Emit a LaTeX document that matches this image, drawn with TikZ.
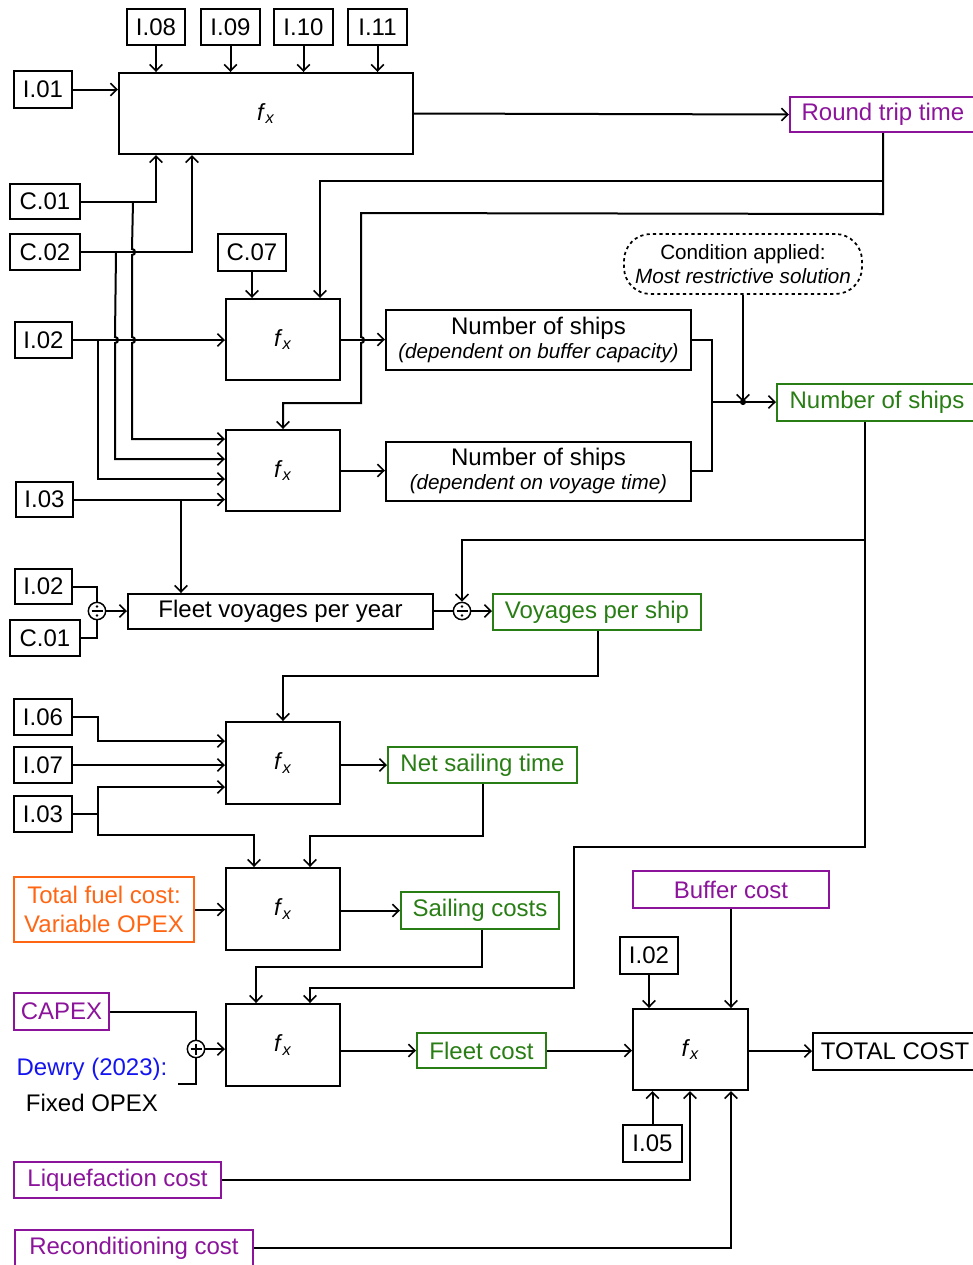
\documentclass[tikz,border=0pt]{standalone}
\usepackage{fontspec}
\setmainfont{Liberation Sans}
\usetikzlibrary{arrows.meta,calc}
\definecolor{ipurple}{RGB}{139,20,155}
\definecolor{igreen}{RGB}{40,125,20}
\definecolor{iorange}{RGB}{255,102,20}
\definecolor{iblue}{RGB}{20,20,240}
\tikzset{
  wire/.style={line width=1.5pt},
  arr/.style={wire, -{Straight Barb[length=4.8pt,width=9.5pt,line width=1.2pt]}},
  box/.style={draw, line width=1.5pt, inner sep=0pt, align=center, font=\fontsize{18}{22}\selectfont},
  wh/.style 2 args={minimum width={#1*0.75pt}, minimum height={#2*0.75pt}},
  res/.style={box, draw=igreen, text=igreen},
  ext/.style={box, draw=ipurple, text=ipurple},
  twoline/.style={box, font=\fontsize{18}{18}\selectfont},
  cond/.style={draw, line width=1.3pt, dash pattern=on 2.4pt off 2.4pt, rounded corners=20pt,
    inner sep=0pt, align=center, font=\fontsize{15.5}{17.5}\selectfont},
  opnode/.style={circle, draw, line width=1.1pt, minimum size=13pt, inner sep=0pt},
  divop/.style={opnode, path picture={
      \draw[line width=1pt] ($(path picture bounding box.center)+(-5.5,0)$) -- ++(11,0);
      \fill ($(path picture bounding box.center)+(0,-4.5)$) circle (1pt);
      \fill ($(path picture bounding box.center)+(0,4.5)$) circle (1pt);}},
  plusop/.style={opnode, path picture={
      \draw[line width=1pt] ($(path picture bounding box.center)+(-5.5,0)$) -- ++(11,0);
      \draw[line width=1pt] ($(path picture bounding box.center)+(0,-5.5)$) -- ++(0,11);}},
}
\newcommand{\fxlabel}{{\fontsize{17.5}{20}\selectfont\textit{f}\textsubscript{\textit{x}}}}
% a vertical wire hopping over a horizontal one at (#1,#2)
\newcommand{\wirehop}[2]{-- ({#1},{#2-3}) .. controls ({#1+4},{#2-3}) and ({#1+4},{#2+3}) .. ({#1},{#2+3})}
\newcommand{\subtxt}[1]{{\fontsize{15.5}{18}\selectfont\itshape #1}}

\begin{document}
\begin{tikzpicture}[x=0.75pt,y=-0.75pt]
\useasboundingbox (0,0) rectangle (972,1265);

% ---------- round trip time block ----------
\node[box, wh={58}{36}] (i08) at (156,27) {I.08};
\node[box, wh={59}{36}] (i09) at (230.5,27) {I.09};
\node[box, wh={59}{36}] (i10) at (303.5,27) {I.10};
\node[box, wh={59}{36}] (i11) at (377.5,27) {I.11};
\node[box, wh={294}{81}] (fxa) at (266,113.5) {\fxlabel};
\node[box, wh={58}{37}] (i01) at (43,89.5) {I.01};
\node[ext, wh={186}{35}] (rtt) at (883,114.5) {Round trip time};

% ---------- number of ships block ----------
\node[box, wh={70}{35}] (c01) at (45,201.5) {C.01};
\node[box, wh={70}{36}] (c02) at (45,252) {C.02};
\node[box, wh={68}{37}] (c07) at (252,252.5) {C.07};
\node[box, wh={114}{81}] (fxb) at (283,339.5) {\fxlabel};
\node[box, wh={57}{36}] (i02) at (43.5,340) {I.02};
\node[box, wh={114}{81}] (fxc) at (283,470.5) {\fxlabel};
\node[box, wh={57}{35}] (i03) at (44.5,499.5) {I.03};
\node[twoline, wh={305}{60}] (nsb) at (538.5,340) {Number of ships\\\subtxt{(dependent on buffer capacity)}};
\node[twoline, wh={305}{59}] (nsv) at (538.5,471) {Number of ships\\\subtxt{(dependent on voyage time)}};
\node[cond, wh={238}{60}] (cnd) at (743,264) {Condition applied:\\\textit{Most restrictive solution}};
\node[res, wh={200}{37}] (nos) at (877,402.5) {Number of ships};

% ---------- voyages ----------
\node[box, wh={57}{35}] (i02b) at (43.5,586.5) {I.02};
\node[box, wh={70}{36}] (c01b) at (45,638) {C.01};
\node[divop] (div1) at (97,611) {};
\node[box, wh={305}{35}] (fleet) at (280.5,611.5) {Fleet voyages per year};
\node[divop] (div2) at (462,611) {};
\node[res, wh={208}{36}] (vps) at (597,612) {Voyages per ship};

% ---------- sailing ----------
\node[box, wh={58}{36}] (i06) at (43,717) {I.06};
\node[box, wh={58}{36}] (i07) at (43,765) {I.07};
\node[box, wh={58}{36}] (i03c) at (43,814) {I.03};
\node[box, wh={114}{82}] (fxd) at (283,763) {\fxlabel};
\node[res, wh={189}{36}] (nst) at (482.5,765) {Net sailing time};
\node[box, wh={114}{82}] (fxe) at (283,909) {\fxlabel};
\node[box, draw=iorange, text=iorange, wh={180}{65}] (fuel) at (104,909.5) {Total fuel cost:\\Variable OPEX};
\node[res, wh={158}{37}] (sail) at (480,910.5) {Sailing costs};

% ---------- costs ----------
\node[ext, wh={95}{37}] (capex) at (61.5,1011.5) {CAPEX};
\node[text=iblue, font=\fontsize{18}{22}\selectfont] (dewry) at (92,1069) {Dewry (2023):};
\node[font=\fontsize{18}{22}\selectfont] (fixed) at (92,1103) {Fixed OPEX};
\coordinate (dw) at (178,1084);
\node[plusop] (plus) at (196,1049) {};
\node[box, wh={114}{82}] (fxf) at (283,1045) {\fxlabel};
\node[res, wh={129}{35}] (fcost) at (481.5,1050.5) {Fleet cost};
\node[box, wh={115}{81}] (fxg) at (690.5,1049.5) {\fxlabel};
\node[ext, wh={196}{37}] (bcost) at (731,889.5) {Buffer cost};
\node[box, wh={58}{37}] (i02c) at (649,955.5) {I.02};
\node[box, wh={164}{37}] (total) at (895,1051) {TOTAL COST};
\node[box, wh={59}{37}] (i05) at (652.5,1143.5) {I.05};
\node[ext, wh={207}{36}] (liq) at (117.5,1180) {Liquefaction cost};
\node[ext, wh={238}{36}] (recon) at (134,1248) {Reconditioning cost};

% ---------- connectors: round trip time ----------
\foreach \n in {i08,i09,i10,i11} \draw[arr] (\n.south) -- (\n.south |- fxa.north);
\draw[arr] (i01.east) -- (i01.east -| fxa.west);
\draw[arr] (fxa.east) -- (rtt.west);
\draw[arr] (c01.east) -| (i08.south |- fxa.south);
\draw[arr] (c02.east) -| ($(fxa.south west)+(74,0)$);

% ---------- connectors: number of ships ----------
\coordinate (b1) at ($(c01.east)+(52,0)$);
\draw[arr] (b1) \wirehop{132}{252} \wirehop{132}{340} |- ($(fxc.north west)+(0,10)$);
\coordinate (b2) at ($(c02.east)+(35,0)$);
\draw[arr] (b2) \wirehop{115}{340} |- ($(fxc.north west)+(0,30)$);
\draw[arr] (i02.east) -- (i02.east -| fxb.west);
\coordinate (b3) at ($(i02.east)+(25,0)$);
\draw[arr] (b3) |- ($(fxc.north west)+(0,50)$);
\draw[arr] (i03.east) -- (i03.east -| fxc.west);
\coordinate (j3) at ($(i03.east)+(107,0)$);
\draw[arr] (j3) -- (j3 |- fleet.north);
\draw[arr] (c07.south) -- (c07.south |- fxb.north);

\draw[arr] (rtt.south) -- ++(0,81) -- (361,213) \wirehop{361}{340} -- (361,403) -| (fxc.north);
\draw[arr] ($(rtt.south)+(0,48)$) -| ($(fxb.north)+(37,0)$);

\draw[arr] (fxb.east) -- (fxb.east -| nsb.west);
\draw[arr] (fxc.east) -- (fxc.east -| nsv.west);
\coordinate (m) at ($(nsb.east)+(20,62)$);
\draw[wire] (nsb.east) -| (m) |- (nsv.east);
\draw[arr] (m) -- (m -| nos.west);
\fill (cnd.south |- m) circle (2.3pt);
\draw[arr] (cnd.south) -- (cnd.south |- m);

% ---------- connectors: voyages ----------
\coordinate (n0) at ($(nos.south west)+(89,0)$);
\draw[arr] (n0) -- ++(0,425) -- ++(-291,0) -- ++(0,141) -| ($(fxf.north)+(27,0)$);
\draw[arr] ($(n0)+(0,118)$) -| (div2.north);
\draw[wire] (i02b.east) -| (div1.north);
\draw[wire] (c01b.east) -| (div1.south);
\draw[arr] (div1.east) -- (div1.east -| fleet.west);
\draw[wire] (fleet.east |- div2.west) -- (div2.west);
\draw[arr] (div2.east) -- (div2.east -| vps.west);

% ---------- connectors: sailing ----------
\draw[arr] ($(vps.south)+(1,0)$) -- ++(0,45) -| (fxd.north);
\draw[arr] (i06.east) -- ++(25,0) |- ($(fxd.north west)+(0,20)$);
\draw[arr] (i07.east) -- (i07.east -| fxd.west);
\draw[arr] (i03c.east) -- ++(25,0) |- ($(fxd.north west)+(0,66)$);
\draw[arr] ($(i03c.east)+(25,0)$) -- ++(0,21) -| ($(fxe.north)+(-29,0)$);
\draw[arr] (fxd.east |- nst.west) -- (nst.west);
\draw[arr] (nst.south) -- ++(0,52) -| ($(fxe.north)+(27,0)$);
\draw[arr] (fuel.east) -- (fuel.east -| fxe.west);
\draw[arr] (fxe.east |- sail.west) -- (sail.west);
\draw[arr] ($(sail.south)+(2,0)$) -- ++(0,37) -| ($(fxf.north)+(-27,0)$);

% ---------- connectors: costs ----------
\draw[wire] (capex.east) -| (plus.north);
\draw[wire] (dw) -| (plus.south);
\draw[arr] (plus.east) -- (plus.east -| fxf.west);
\draw[arr] (fxf.east |- fcost.west) -- (fcost.west);
\draw[arr] (fcost.east) -- (fcost.east -| fxg.west);
\draw[arr] (fxg.east |- total.west) -- (total.west);
\draw[arr] (bcost.south) -- (bcost.south |- fxg.north);
\draw[arr] (i02c.south) -- (i02c.south |- fxg.north);
\draw[arr] (i05.north) -- (i05.north |- fxg.south);
\draw[arr] (liq.east) -| ($(fxg.south west)+(58,0)$);
\draw[arr] (recon.east) -| ($(fxg.south west)+(99,0)$);
\end{tikzpicture}
\end{document}
